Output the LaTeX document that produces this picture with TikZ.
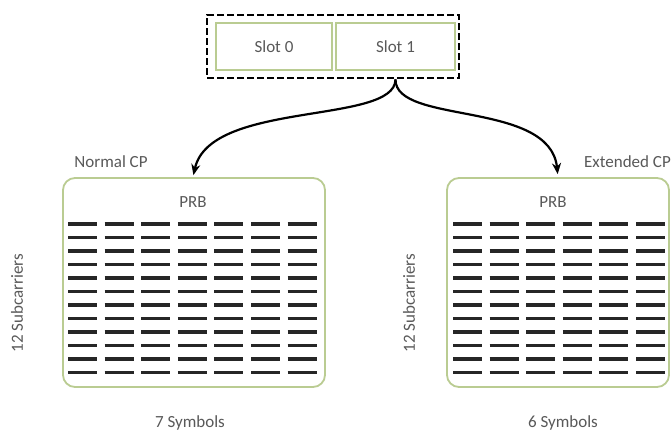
\documentclass[tikz,border=0pt]{standalone}
\usepackage{fontspec}
\setmainfont{Carlito}
\usetikzlibrary{arrows.meta}
\definecolor{boxgreen}{HTML}{BACC92}
\definecolor{txtgray}{HTML}{595959}
\begin{document}
\begin{tikzpicture}[x=1pt,y=-1pt,
  lbl/.style={text=txtgray,font=\fontsize{17}{20}\selectfont,inner sep=0pt},
  slotbox/.style={draw=boxgreen,line width=1.6pt,minimum height=47pt,inner sep=0pt},
  prbbox/.style={draw=boxgreen,line width=1.8pt,rounded corners=12pt,minimum height=209pt,inner sep=0pt},
  outerbox/.style={draw=black,line width=2.8pt,dash pattern=on 7pt off 3pt,minimum width=252pt,minimum height=63pt,inner sep=0pt},
  arr/.style={-{Stealth[length=11pt,width=9pt]},line width=2.2pt,black},
  rebar/.style={line width=3.6pt,draw=black!85}
]
\useasboundingbox (0,0) rectangle (672,434);
\fill[white] (0,0) rectangle (672,434);
% top slots
\node[outerbox] (outer) at (333,46.5) {};
\node[slotbox,minimum width=116pt,lbl] (slot0) at (274,46.5) {Slot 0};
\node[slotbox,minimum width=119pt,lbl] (slot1) at (395.5,46.5) {Slot 1};
% PRB boxes
\node[prbbox,minimum width=262pt] (lbox) at (194,282.5) {};
\node[prbbox,minimum width=222pt] (rbox) at (558,282.5) {};
% labels
\node[lbl] (ncp) at (111,162) {Normal CP};
\node[lbl,anchor=east] (ecp) at (671,162) {Extended CP};
\node[lbl] (lprb) at (193,202) {PRB};
\node[lbl] (rprb) at (553,202) {PRB};
\node[lbl,rotate=90] (lsub) at (17,303) {12 Subcarriers};
\node[lbl,rotate=90] (rsub) at (409,303) {12 Subcarriers};
\node[lbl] (lsym) at (190,423) {7 Symbols};
\node[lbl] (rsym) at (563,423) {6 Symbols};
% resource elements
\foreach \r in {0,...,11}{
  \foreach \c in {0,...,6}{
    \draw[rebar] ({68+36.6*\c},{224+13.5*\r}) -- ++(29,0);
  }
  \foreach \c in {0,...,5}{
    \draw[rebar] ({453+36.6*\c},{224+13.5*\r}) -- ++(29,0);
  }
}
% arrows
\coordinate (src) at (slot1.south |- outer.south);
\draw[arr,shorten >=2pt] (src) .. controls (395,125) and (210,100) .. (lbox.north -| lprb);
\draw[arr,shorten >=3pt] (src) .. controls (395,125) and (550,100) .. (rbox.north);
\end{tikzpicture}
\end{document}
